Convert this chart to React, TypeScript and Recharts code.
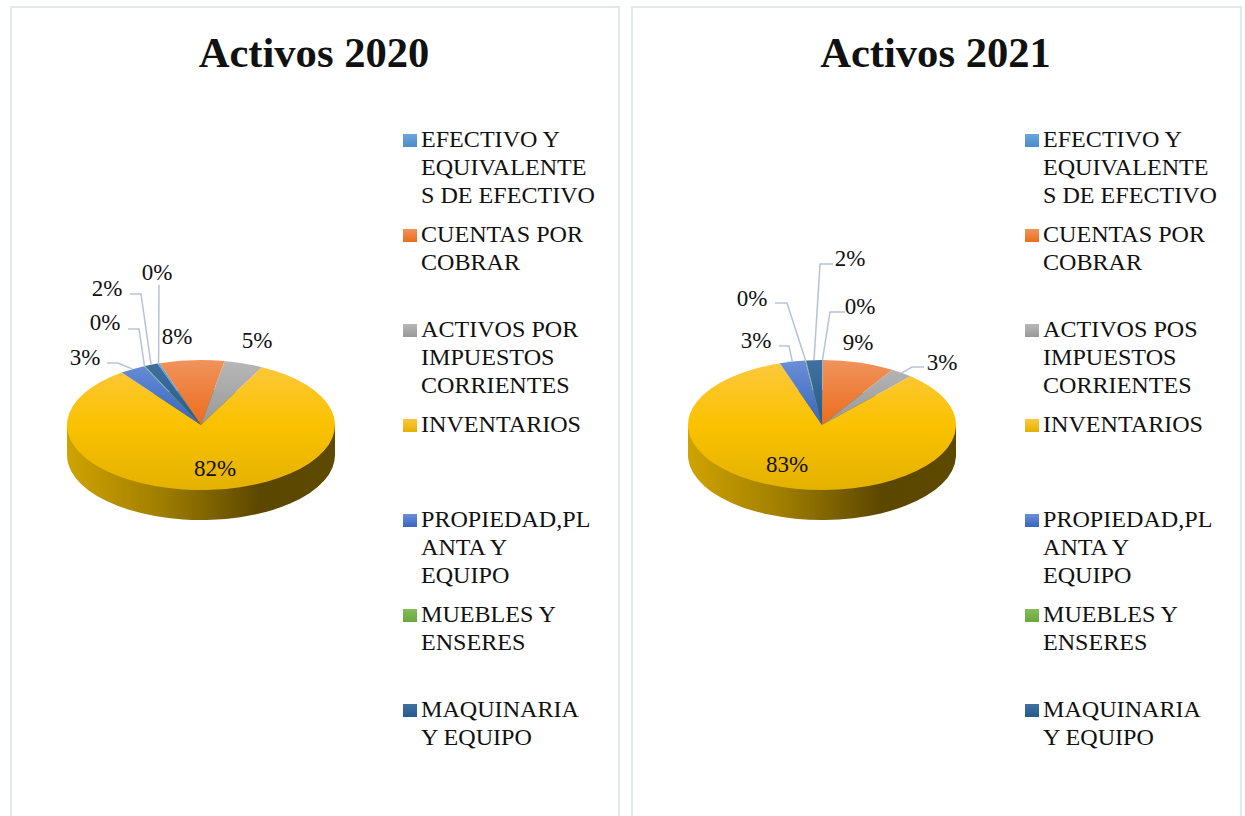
import React from "react";
import { PieChart, Pie, Legend } from "recharts";

const categories = [
  "EFECTIVO Y EQUIVALENTES DE EFECTIVO",
  "CUENTAS POR COBRAR",
  "ACTIVOS POR IMPUESTOS CORRIENTES",
  "INVENTARIOS",
  "PROPIEDAD,PLANTA Y EQUIPO",
  "MUEBLES Y ENSERES",
  "MAQUINARIA Y EQUIPO",
];
const categories2021 = categories.map((c) => c.replace("ACTIVOS POR", "ACTIVOS POS"));

// percentages
const values2020 = [0.3, 7.8, 4.7, 82.4, 3.1, 0.1, 1.6];
const values2021 = [0.1, 8.7, 2.7, 83.4, 3.1, 0.1, 1.9];

// top and bottom shade of each slice
const shades = [
  ["#6ea6d9", "#4a8ccb"],
  ["#f0935c", "#ec6c1c"],
  ["#b8b8b8", "#989898"],
  ["#fdc83f", "#e3b100"],
  ["#6b8fd8", "#3766bd"],
  ["#85bd5c", "#68a83c"],
  ["#41709f", "#235c90"],
];

// label position per slice, plus where its leader line starts and bends
type LabelSpot = { x: number; y: number; from?: [number, number]; bend?: [number, number] };

const labels2020: LabelSpot[] = [
  { x: 145, y: 264, from: [147, 277] },
  { x: 165, y: 328 },
  { x: 245, y: 332 },
  { x: 203, y: 460 },
  { x: 73, y: 349, from: [95, 355], bend: [106, 355] },
  { x: 93, y: 314, from: [116, 321], bend: [127, 321] },
  { x: 95, y: 280, from: [118, 286], bend: [129, 286] },
];
const labels2021: LabelSpot[] = [
  { x: 227, y: 298, from: [212, 304], bend: [197, 304] },
  { x: 225, y: 334 },
  { x: 309, y: 354, from: [291, 359], bend: [279, 359] },
  { x: 154, y: 456 },
  { x: 123, y: 332, from: [146, 338], bend: [156, 338] },
  { x: 119, y: 290, from: [142, 295], bend: [154, 295] },
  { x: 217, y: 250, from: [200, 256], bend: [187, 256] },
];

const FONT = '"Liberation Serif", "Times New Roman", serif';
const RADIUS = 134;
const TILT = 0.485;
const DEPTH = 30;
const CX = 189;
const CY = 417;

function slicePath(r: number, start: number, end: number) {
  const rad = Math.PI / 180;
  const x1 = r * Math.cos(start * rad);
  const y1 = -r * Math.sin(start * rad);
  const x2 = r * Math.cos(end * rad);
  const y2 = -r * Math.sin(end * rad);
  const large = Math.abs(end - start) > 180 ? 1 : 0;
  return `M0,0L${x1},${y1}A${r},${r} 0 ${large} 1 ${x2},${y2}Z`;
}

const TopSlice = (props: any) => {
  const { cx, cy, startAngle, endAngle, outerRadius, fill } = props;
  return (
    <g transform={`translate(${cx},${cy}) scale(1,${TILT})`}>
      <path d={slicePath(outerRadius, startAngle, endAngle)} fill={fill} stroke="none" />
    </g>
  );
};

const SideSlice = (props: any) => {
  const { cx, cy, startAngle, endAngle, outerRadius, fill, name } = props;
  const h = DEPTH / TILT;
  return (
    <g transform={`translate(${cx},${cy}) scale(1,${TILT})`}>
      {name === props.firstName && (
        <rect x={-outerRadius} y={-h} width={outerRadius * 2} height={h} fill={fill} />
      )}
      <path d={slicePath(outerRadius, startAngle, endAngle)} fill={fill} stroke="none" />
    </g>
  );
};

const makeLabel = (spots: LabelSpot[]) => (props: any) => {
  const { cx, cy, midAngle, outerRadius, percent, index } = props;
  const spot = spots[index];
  const rad = (midAngle * Math.PI) / 180;
  const tipX = cx + outerRadius * Math.cos(rad);
  const tipY = cy - outerRadius * TILT * Math.sin(rad);
  const pts = spot.from
    ? [spot.from, ...(spot.bend ? [spot.bend] : []), [tipX, tipY]].map((p) => p.join(",")).join(" ")
    : null;
  return (
    <g key={index}>
      {pts && <polyline points={pts} fill="none" stroke="#b6c3d6" strokeWidth={1.5} />}
      <text
        x={spot.x}
        y={spot.y}
        textAnchor="middle"
        dominantBaseline="central"
        fontFamily={FONT}
        fontSize={23}
        fill="#111"
      >
        {`${Math.round(percent * 100)}%`}
      </text>
    </g>
  );
};

const LegendList = ({ names }: { names: string[] }) => (
  <div style={{ fontFamily: FONT, fontSize: 24.1, lineHeight: "28px", color: "#111" }}>
    {names.map((name, i) => (
      <div key={name} style={{ height: 95, display: "flex", alignItems: "flex-start" }}>
        <span
          style={{
            width: 14,
            height: 13,
            marginTop: 9,
            marginRight: 4,
            flex: "none",
            background: `linear-gradient(${shades[i][0]}, ${shades[i][1]})`,
          }}
        />
        <span style={{ width: 176, overflowWrap: "anywhere" }}>{name}</span>
      </div>
    ))}
  </div>
);

interface PanelProps {
  id: string;
  title: string;
  names: string[];
  values: number[];
  spots: LabelSpot[];
  startAngle: number;
  left: number;
  width: number;
  legendLeft: number;
}

const Panel: React.FC<PanelProps> = ({ id, title, names, values, spots, startAngle, left, width, legendLeft }) => {
  const top = names.map((name, i) => ({ name, value: values[i], fill: `url(#${id}-top-${i})` }));
  const side = names.map((name, i) => ({
    name,
    value: values[i],
    fill: `url(#${id}-side)`,
    firstName: names[0],
  }));
  return (
    <div
      style={{
        position: "absolute",
        left,
        top: 6,
        width,
        height: 830,
        border: "2px solid #e3e7ef",
        boxSizing: "border-box",
      }}
    >
      <PieChart width={width - 4} height={810} margin={{ top: 0, right: 0, bottom: 0, left: 0 }}>
        <defs>
          {shades.map((s, i) => (
            <linearGradient
              key={i}
              id={`${id}-top-${i}`}
              gradientUnits="userSpaceOnUse"
              x1={0}
              y1={-RADIUS}
              x2={0}
              y2={RADIUS}
            >
              <stop offset="0%" stopColor={s[0]} />
              <stop offset="50%" stopColor={i === 3 ? "#fac200" : s[1]} />
              <stop offset="100%" stopColor={s[1]} />
            </linearGradient>
          ))}
          <linearGradient
            id={`${id}-side`}
            gradientUnits="userSpaceOnUse"
            x1={-RADIUS}
            y1={0}
            x2={RADIUS}
            y2={0}
          >
            <stop offset="0%" stopColor="#cfa300" />
            <stop offset="35%" stopColor="#a07e00" />
            <stop offset="72%" stopColor="#5c4700" />
            <stop offset="100%" stopColor="#5e4900" />
          </linearGradient>
        </defs>
        <text
          x={(width - 4) / 2 - 1}
          y={44}
          textAnchor="middle"
          dominantBaseline="central"
          fontFamily={FONT}
          fontWeight="bold"
          fontSize={42.6}
          fill="#111"
        >
          {title}
        </text>
        <Pie
          data={side}
          dataKey="value"
          nameKey="name"
          cx={CX}
          cy={CY + DEPTH}
          outerRadius={RADIUS}
          startAngle={startAngle}
          endAngle={startAngle - 360}
          stroke="none"
          legendType="none"
          label={false}
          labelLine={false}
          shape={SideSlice}
          isAnimationActive={false}
        />
        <Pie
          data={top}
          dataKey="value"
          nameKey="name"
          cx={CX}
          cy={CY}
          outerRadius={RADIUS}
          startAngle={startAngle}
          endAngle={startAngle - 360}
          stroke="none"
          label={makeLabel(spots)}
          labelLine={false}
          shape={TopSlice}
          isAnimationActive={false}
        />
        <Legend
          layout="vertical"
          align="center"
          verticalAlign="middle"
          wrapperStyle={{ left: legendLeft, top: 117, width: 200 }}
          content={() => <LegendList names={names} />}
        />
      </PieChart>
    </div>
  );
};

export default function App() {
  return (
    <div
      style={{
        position: "absolute",
        left: 0,
        top: 0,
        width: 1245,
        height: 816,
        overflow: "hidden",
        background: "#fff",
      }}
    >
      <Panel
        id="a2020"
        title="Activos 2020"
        names={categories}
        values={values2020}
        spots={labels2020}
        startAngle={109}
        left={10}
        width={610}
        legendLeft={391}
      />
      <Panel
        id="a2021"
        title="Activos 2021"
        names={categories2021}
        values={values2021}
        spots={labels2021}
        startAngle={90}
        left={631}
        width={611}
        legendLeft={392}
      />
    </div>
  );
}
